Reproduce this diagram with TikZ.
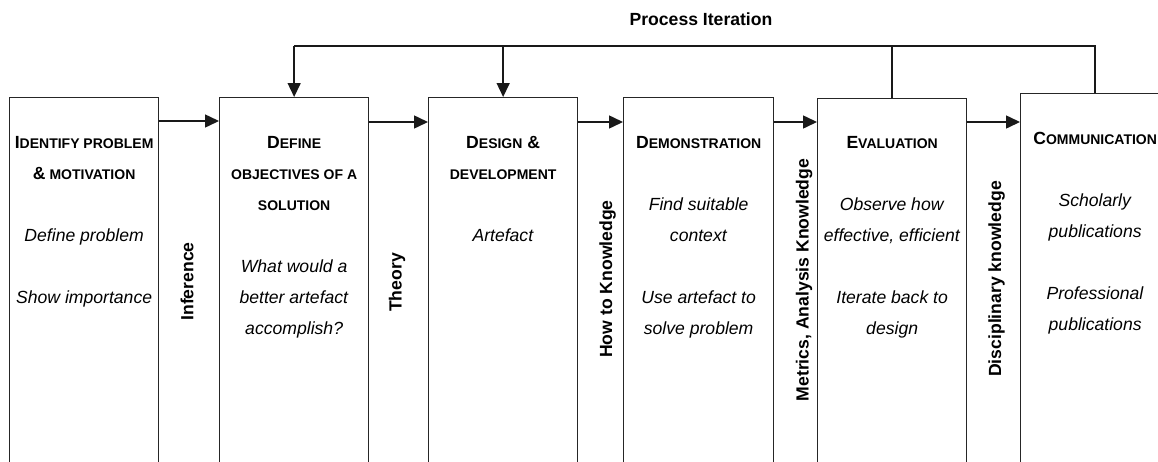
\documentclass[tikz,border=0pt]{standalone}
\usepackage{fontspec}
\setmainfont{Liberation Sans}
\usetikzlibrary{arrows.meta,calc}

% stage titles: large initial, reduced capitals after it
\newcommand\smallpart[1]{{\fontsize{14}{31}\selectfont #1}}
\newcommand\stagetitle[1]{{\bfseries #1}}

\tikzset{
  stagebox/.style={draw=black!85, line width=1.3pt, rectangle, inner sep=0pt,
    minimum width=149pt, minimum height=380pt, anchor=north west},
  stagetext/.style={inner sep=0pt, anchor=north, align=center,
    font=\fontsize{17.6}{31}\selectfont},
  sidelabel/.style={inner sep=0pt, rotate=90, font=\fontsize{17.6}{20}\selectfont\bfseries},
  toplabel/.style={inner sep=0pt, font=\fontsize{17.6}{20}\selectfont\bfseries},
  link/.style={draw=black!90, line width=1.5pt},
  flow/.style={link, -{Triangle[length=14pt,width=13pt]}}
}

\begin{document}
\begin{tikzpicture}[x=1pt,y=-1pt]
\useasboundingbox (0,0) rectangle (1158,461);
\clip (0,0) rectangle (1158,461);

% stages of the process
\node[stagebox] (b1) at (9,97)    {};
\node[stagebox] (b2) at (219,97)  {};
\node[stagebox] (b3) at (428,97)  {};
\node[stagebox, minimum width=150pt] (b4) at (623,97) {};
\node[stagebox] (b5) at (817,98)  {};
\node[stagebox] (b6) at (1020,93) {};

% stage contents (first line starts 14pt above its baseline)
\node[stagetext] (t1) at ($(b1.north)+(0,37.3)$)
  {\rule{0pt}{14pt}\stagetitle{I\smallpart{DENTIFY PROBLEM}}\\
   \stagetitle{\&\smallpart{ MOTIVATION}}\\[31pt]
   \textit{Define problem}\\[31pt]
   \textit{Show importance}};
\node[stagetext] (t2) at ($(b2.north)+(0,37.3)$)
  {\rule{0pt}{14pt}\stagetitle{D\smallpart{EFINE}}\\
   \stagetitle{\smallpart{OBJECTIVES OF A}}\\
   \stagetitle{\smallpart{SOLUTION}}\\[31pt]
   \textit{What would a}\\
   \textit{better artefact}\\
   \textit{accomplish?}};
\node[stagetext] (t3) at ($(b3.north)+(0,37.3)$)
  {\rule{0pt}{14pt}\stagetitle{D\smallpart{ESIGN} \&}\\
   \stagetitle{\smallpart{DEVELOPMENT}}\\[31pt]
   \textit{Artefact}};
\node[stagetext] (t4) at ($(b4.north)+(0,37.3)$)
  {\rule{0pt}{14pt}\stagetitle{D\smallpart{EMONSTRATION}}\\[31pt]
   \textit{Find suitable}\\
   \textit{context}\\[31pt]
   \textit{Use artefact to}\\
   \textit{solve problem}};
\node[stagetext] (t5) at ($(b5.north)+(0,36.3)$)
  {\rule{0pt}{14pt}\stagetitle{E\smallpart{VALUATION}}\\[31pt]
   \textit{Observe how}\\
   \textit{effective, efficient}\\[31pt]
   \textit{Iterate back to}\\
   \textit{design}};
\node[stagetext] (t6) at ($(b6.north)+(0,36.8)$)
  {\rule{0pt}{14pt}\stagetitle{C\smallpart{OMMUNICATION}}\\[31pt]
   \textit{Scholarly}\\
   \textit{publications}\\[31pt]
   \textit{Professional}\\
   \textit{publications}};

% knowledge between stages
\node[sidelabel] (l1) at (187,281.5)   {Inference};
\node[sidelabel] (l2) at (397,282.5)   {Theory};
\node[sidelabel] (l3) at (607.5,279)   {How to Knowledge};
\node[sidelabel] (l4) at (804,280)     {Metrics, Analysis Knowledge};
\node[sidelabel] (l5) at (996.5,279)   {Disciplinary knowledge};

% forward flow
\draw[flow] ([yshift=-24pt]b1.north east) -- ([yshift=-24pt]b1.north east -| b2.west);
\draw[flow] ([yshift=-25pt]b2.north east) -- ([yshift=-25pt]b2.north east -| b3.west);
\draw[flow] ([yshift=-25pt]b3.north east) -- ([yshift=-25pt]b3.north east -| b4.west);
\draw[flow] ([yshift=-25pt]b4.north east) -- ([yshift=-25pt]b4.north east -| b5.west);
\draw[flow] ([yshift=-24pt]b5.north east) -- ([yshift=-24pt]b5.north east -| b6.west);

% iteration loop
\node[toplabel] (pi) at (701,19) {Process Iteration};
\coordinate (loop) at (701,46);
\draw[link] (b6.north) -- (b6.north |- loop) -- (b2.north |- loop);
\draw[link] (b5.north) -- (b5.north |- loop);
\draw[flow] (b2.north |- loop) -- (b2.north);
\draw[flow] (b3.north |- loop) -- (b3.north);
\end{tikzpicture}
\end{document}
